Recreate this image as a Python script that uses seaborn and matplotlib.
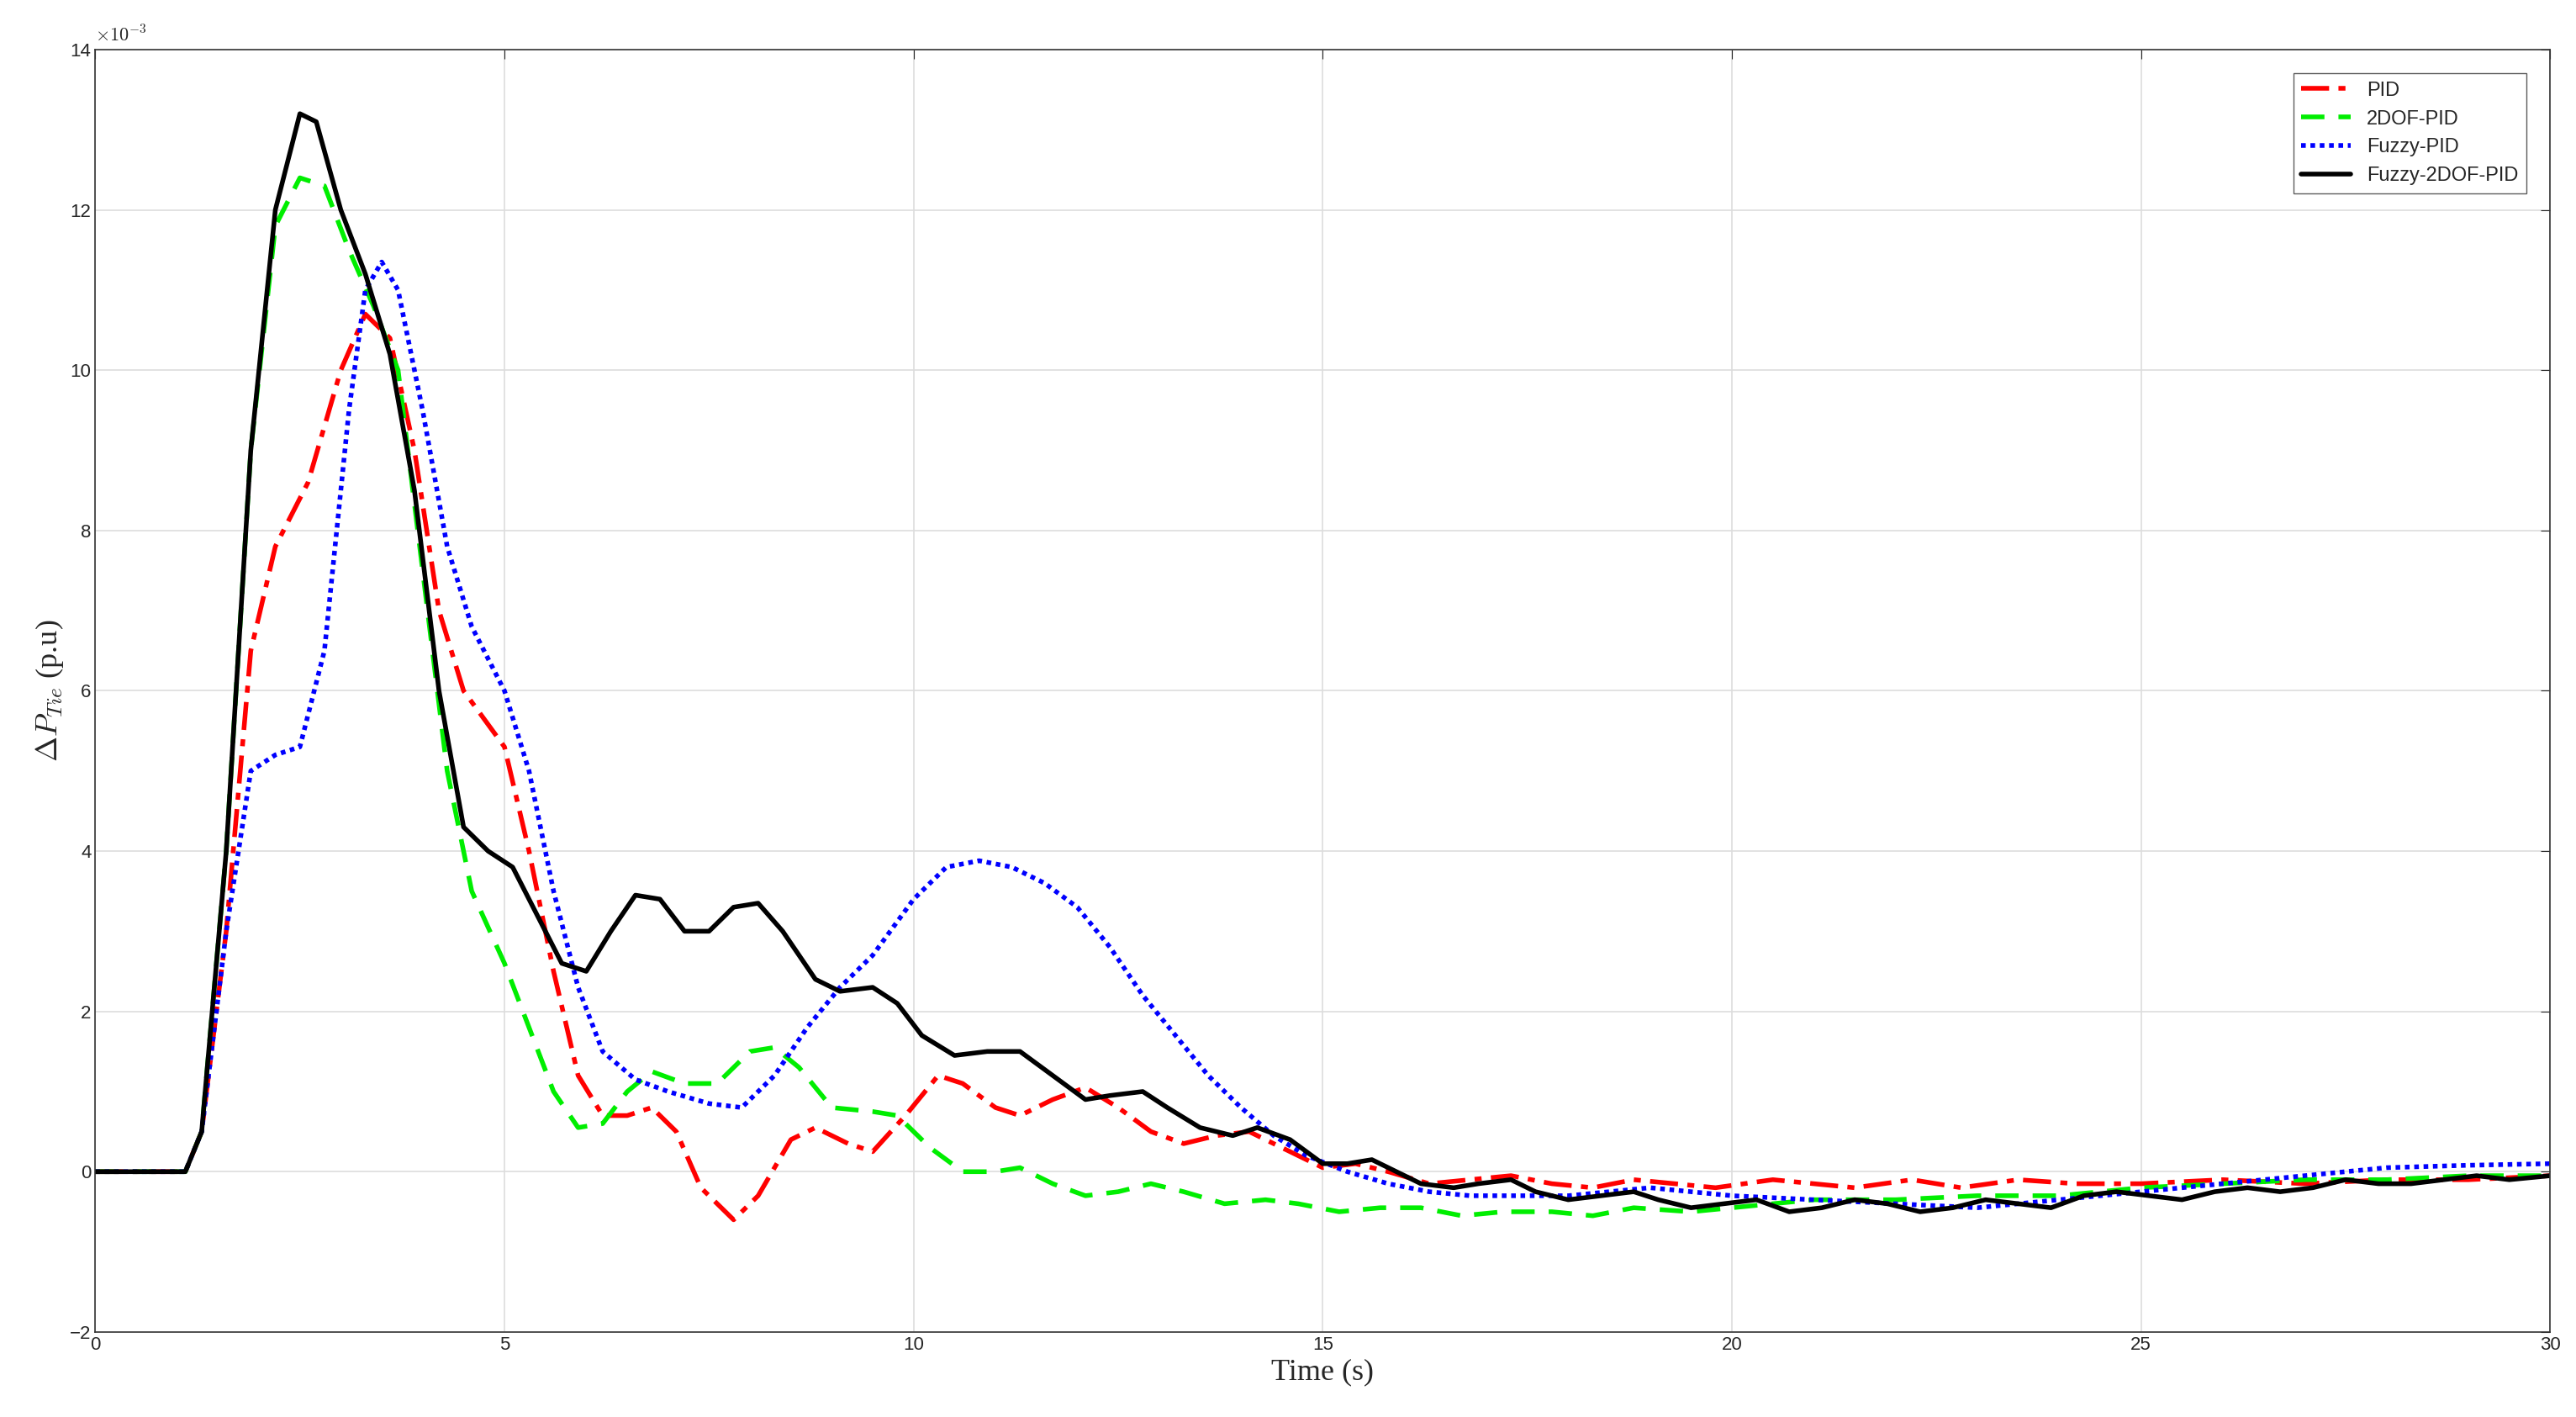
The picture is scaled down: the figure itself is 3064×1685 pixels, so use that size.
import numpy as np
import pandas as pd
import matplotlib
matplotlib.use('Agg')
import matplotlib.pyplot as plt
import seaborn as sns

# values (y in units of 1e-3 p.u)
pid_t = [0, 1.1, 1.3, 1.6, 1.9, 2.2, 2.6, 3.0, 3.3, 3.6, 3.9, 4.2, 4.5, 5.0, 5.3, 5.6, 5.9, 6.2, 6.5, 6.8,
         7.1, 7.4, 7.8, 8.1, 8.5, 8.8, 9.2, 9.5, 9.9, 10.3, 10.6, 11.0, 11.3, 11.7, 12.1, 12.5, 12.9, 13.3,
         13.7, 14.1, 14.5, 15.0, 15.4, 15.8, 16.3, 16.8, 17.3, 17.8, 18.3, 18.8, 19.3, 19.8, 20.5, 21.0,
         21.5, 22.2, 22.8, 23.5, 24.2, 25, 26, 27, 28, 29, 30]
pid_y = [0, 0, 0.5, 3, 6.5, 7.8, 8.6, 10, 10.7, 10.4, 9, 7, 6, 5.3, 4, 2.5, 1.2, 0.7, 0.7, 0.8,
         0.5, -0.2, -0.6, -0.3, 0.4, 0.55, 0.35, 0.25, 0.7, 1.2, 1.1, 0.8, 0.7, 0.9, 1.05, 0.8, 0.5, 0.35,
         0.45, 0.5, 0.3, 0.05, 0.1, 0, -0.15, -0.1, -0.05, -0.15, -0.2, -0.1, -0.15, -0.2, -0.1, -0.15,
         -0.2, -0.1, -0.2, -0.1, -0.15, -0.15, -0.1, -0.15, -0.1, -0.1, -0.05]

dof_t = [0, 1.1, 1.3, 1.6, 1.9, 2.2, 2.5, 2.8, 3.1, 3.4, 3.7, 4.0, 4.3, 4.6, 5.0, 5.3, 5.6, 5.9, 6.2, 6.5,
         6.8, 7.2, 7.6, 8.0, 8.3, 8.6, 9.0, 9.5, 9.8, 10.2, 10.6, 11.0, 11.3, 11.7, 12.1, 12.5, 12.9, 13.3,
         13.8, 14.3, 14.7, 15.2, 15.7, 16.2, 16.7, 17.2, 17.8, 18.3, 18.8, 19.5, 20, 21, 22, 23, 24, 25,
         26, 27, 28, 29, 30]
dof_y = [0, 0, 0.5, 4, 9, 11.8, 12.4, 12.3, 11.5, 10.8, 10, 7.5, 5, 3.5, 2.6, 1.8, 1.0, 0.55, 0.6, 1.0,
         1.25, 1.1, 1.1, 1.5, 1.55, 1.3, 0.8, 0.75, 0.7, 0.3, 0, 0, 0.05, -0.15, -0.3, -0.25, -0.15, -0.25,
         -0.4, -0.35, -0.4, -0.5, -0.45, -0.45, -0.55, -0.5, -0.5, -0.55, -0.45, -0.5, -0.45, -0.35, -0.35,
         -0.3, -0.3, -0.2, -0.15, -0.1, -0.1, -0.05, -0.05]

fpid_t = [0, 1.1, 1.3, 1.6, 1.9, 2.2, 2.5, 2.8, 3.1, 3.3, 3.5, 3.7, 4.0, 4.3, 4.6, 5.0, 5.3, 5.6, 5.9, 6.2,
          6.6, 7.0, 7.5, 7.9, 8.3, 8.7, 9.1, 9.5, 10.0, 10.4, 10.8, 11.2, 11.6, 12.0, 12.4, 12.8, 13.2,
          13.6, 14.0, 14.4, 14.8, 15.3, 15.8, 16.3, 16.8, 17.5, 18, 18.5, 19, 19.5, 20, 21, 22, 23, 24, 25,
          26, 27, 28, 29, 30]
fpid_y = [0, 0, 0.5, 3, 5, 5.2, 5.3, 6.5, 9.5, 11, 11.35, 11, 9.5, 7.8, 6.8, 6, 5, 3.5, 2.3, 1.5,
          1.15, 1.0, 0.85, 0.8, 1.2, 1.8, 2.3, 2.7, 3.4, 3.8, 3.88, 3.8, 3.6, 3.3, 2.8, 2.2, 1.7,
          1.2, 0.8, 0.45, 0.2, 0, -0.15, -0.25, -0.3, -0.3, -0.3, -0.25, -0.2, -0.25, -0.3, -0.35, -0.4,
          -0.45, -0.35, -0.25, -0.15, -0.05, 0.05, 0.08, 0.1]

f2dof_t = [0, 1.1, 1.3, 1.6, 1.9, 2.2, 2.5, 2.7, 3.0, 3.3, 3.6, 3.9, 4.2, 4.5, 4.8, 5.1, 5.4, 5.7, 6.0,
           6.3, 6.6, 6.9, 7.2, 7.5, 7.8, 8.1, 8.4, 8.8, 9.1, 9.5, 9.8, 10.1, 10.5, 10.9, 11.3, 11.7, 12.1,
           12.4, 12.8, 13.1, 13.5, 13.9, 14.2, 14.6, 15.0, 15.3, 15.6, 15.9, 16.2, 16.6, 16.9, 17.3, 17.6,
           18.0, 18.4, 18.8, 19.1, 19.5, 19.9, 20.3, 20.7, 21.1, 21.5, 21.9, 22.3, 22.7, 23.1, 23.5, 23.9,
           24.3, 24.7, 25.1, 25.5, 25.9, 26.3, 26.7, 27.1, 27.5, 27.9, 28.3, 28.7, 29.1, 29.5, 30]
f2dof_y = [0, 0, 0.5, 4, 9, 12, 13.2, 13.1, 12, 11.2, 10.2, 8.5, 6, 4.3, 4.0, 3.8, 3.2, 2.6, 2.5,
           3.0, 3.45, 3.4, 3.0, 3.0, 3.3, 3.35, 3.0, 2.4, 2.25, 2.3, 2.1, 1.7, 1.45, 1.5, 1.5, 1.2, 0.9,
           0.95, 1.0, 0.8, 0.55, 0.45, 0.55, 0.4, 0.1, 0.1, 0.15, 0, -0.15, -0.2, -0.15, -0.1, -0.25,
           -0.35, -0.3, -0.25, -0.35, -0.45, -0.4, -0.35, -0.5, -0.45, -0.35, -0.4, -0.5, -0.45, -0.35, -0.4,
           -0.45, -0.3, -0.25, -0.3, -0.35, -0.25, -0.2, -0.25, -0.2, -0.1, -0.15, -0.15, -0.1, -0.05, -0.1,
           -0.05]

sns.set_style('white')
plt.rcParams['font.family'] = ['Liberation Sans', 'DejaVu Sans']
plt.rcParams['mathtext.fontset'] = 'cm'

fig = plt.figure(figsize=(30.64, 16.85), dpi=100)
ax = fig.add_axes([0.037, 0.06, 0.953, 0.905])

series = [
    ('PID', pid_t, pid_y, 'red', (0, (6, 2, 1.5, 2))),
    ('2DOF-PID', dof_t, dof_y, '#00ee00', (0, (5, 3))),
    ('Fuzzy-PID', fpid_t, fpid_y, 'blue', (0, (1, 1))),
    ('Fuzzy-2DOF-PID', f2dof_t, f2dof_y, 'black', '-'),
]
for name, t, y, c, ls in series:
    df = pd.DataFrame({'t': t, 'y': y})
    sns.lineplot(data=df, x='t', y='y', ax=ax, color=c, linestyle=ls, linewidth=4, label=name)

ax.set_xlim(0, 30)
ax.set_ylim(-2, 14)
ax.set_xticks(range(0, 31, 5))
ax.set_yticks(range(-2, 15, 2))
ax.grid(True, color='#dddddd', linewidth=1.2)
ax.tick_params(direction='in', top=True, right=True, labelsize=16, length=8)
for s in ax.spines.values():
    s.set_linewidth(1.2)
    s.set_color('#333333')
ax.text(0, 1.003, r'$\times10^{-3}$', transform=ax.transAxes, fontsize=16, va='bottom')
ax.set_xlabel('Time (s)', fontsize=26, family='Liberation Serif')
ax.set_ylabel(r'$\Delta P_{Tie}$ (p.u)', fontsize=26, family='Liberation Serif')
ax.legend(loc='upper right', fontsize=17, frameon=True, fancybox=False, edgecolor='#333333',
          handlelength=2.5, borderaxespad=1.2)

fig.savefig('out.png', dpi=100)
